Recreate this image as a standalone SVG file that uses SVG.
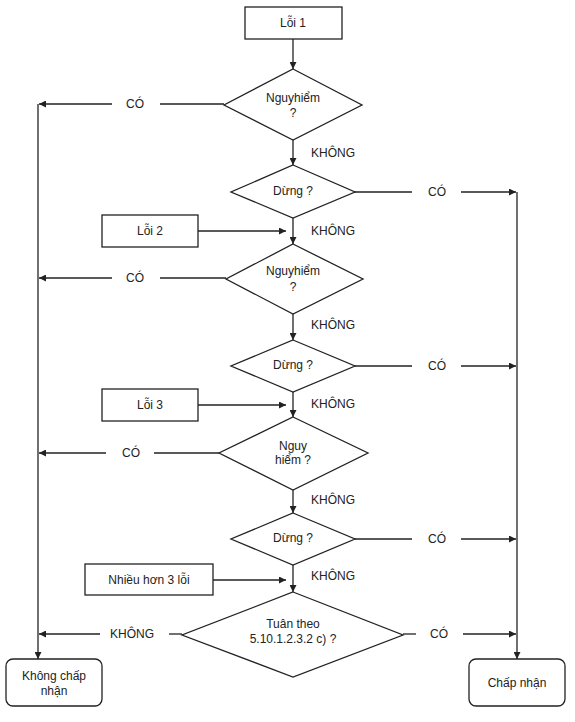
<svg xmlns="http://www.w3.org/2000/svg" width="575" height="722" viewBox="0 0 575 722">
<style>
.s{fill:none;stroke:#222;stroke-width:1.3}
.b{fill:#fff;stroke:#222;stroke-width:1.3}
text{font-family:"Liberation Sans",Arial,sans-serif;font-size:12px;fill:#222;text-anchor:middle}
</style>
<defs>
<marker id="a" viewBox="0 0 10 10" refX="10" refY="5" markerWidth="7" markerHeight="7" markerUnits="userSpaceOnUse" orient="auto"><path d="M0,0 L10,5 L0,10 z" fill="#222"/></marker>
</defs>
<rect width="575" height="722" fill="#fff"/>
<g id="connectors" class="s">
<line x1="293" y1="39" x2="293" y2="69" marker-end="url(#a)"/>
<line x1="293" y1="140" x2="293" y2="165" marker-end="url(#a)"/>
<line x1="293" y1="218" x2="293" y2="244" marker-end="url(#a)"/>
<line x1="293" y1="314" x2="293" y2="340" marker-end="url(#a)"/>
<line x1="293" y1="392" x2="293" y2="417" marker-end="url(#a)"/>
<line x1="293" y1="490" x2="293" y2="513" marker-end="url(#a)"/>
<line x1="293" y1="565" x2="293" y2="592" marker-end="url(#a)"/>
<line x1="198" y1="231" x2="286" y2="231" marker-end="url(#a)"/>
<line x1="198" y1="405" x2="286" y2="405" marker-end="url(#a)"/>
<line x1="213" y1="580" x2="286" y2="580" marker-end="url(#a)"/>
<line x1="224" y1="104" x2="160" y2="104"/>
<line x1="112" y1="104" x2="39" y2="104" marker-end="url(#a)"/>
<line x1="226" y1="278" x2="160" y2="278"/>
<line x1="112" y1="278" x2="39" y2="278" marker-end="url(#a)"/>
<line x1="219" y1="453" x2="154" y2="453"/>
<line x1="106" y1="453" x2="39" y2="453" marker-end="url(#a)"/>
<line x1="182" y1="634" x2="169" y2="634"/>
<line x1="100" y1="634" x2="39" y2="634" marker-end="url(#a)"/>
<line x1="38" y1="104" x2="38" y2="659" marker-end="url(#a)"/>
<line x1="355" y1="192" x2="412" y2="192"/>
<line x1="461" y1="192" x2="516" y2="192" marker-end="url(#a)"/>
<line x1="355" y1="366" x2="412" y2="366"/>
<line x1="461" y1="366" x2="516" y2="366" marker-end="url(#a)"/>
<line x1="355" y1="539" x2="412" y2="539"/>
<line x1="461" y1="539" x2="516" y2="539" marker-end="url(#a)"/>
<line x1="403" y1="634" x2="416" y2="634"/>
<line x1="463" y1="634" x2="516" y2="634" marker-end="url(#a)"/>
<line x1="517" y1="192" x2="517" y2="659" marker-end="url(#a)"/>
</g>
<g id="labels">
<text x="135" y="108">CÓ</text>
<text x="135" y="282">CÓ</text>
<text x="131" y="457">CÓ</text>
<text x="132" y="638">KHÔNG</text>
<text x="437" y="196">CÓ</text>
<text x="437" y="370">CÓ</text>
<text x="437" y="543">CÓ</text>
<text x="439" y="638">CÓ</text>
<text x="333" y="157">KHÔNG</text>
<text x="333" y="235">KHÔNG</text>
<text x="333" y="329">KHÔNG</text>
<text x="333" y="408">KHÔNG</text>
<text x="333" y="504">KHÔNG</text>
<text x="333" y="580">KHÔNG</text>
</g>
<g id="loi1"><rect class="b" x="245" y="7" width="97" height="32"/><text x="293" y="27">Lỗi 1</text></g>
<g id="d1"><polygon class="b" points="293,69 362,105 293,140 224,105"/><text x="293" y="102">Nguyhiểm</text><text x="293" y="117">?</text></g>
<g id="d2"><polygon class="b" points="293,165 355,192 293,218 231,192"/><text x="293" y="195">Dừng ?</text></g>
<g id="loi2"><rect class="b" x="102" y="215" width="96" height="32"/><text x="150" y="235">Lỗi 2</text></g>
<g id="d3"><polygon class="b" points="293,244 363,279 293,314 226,279"/><text x="293" y="275">Nguyhiểm</text><text x="293" y="291">?</text></g>
<g id="d4"><polygon class="b" points="293,340 355,366 293,392 231,366"/><text x="293" y="369">Dừng ?</text></g>
<g id="loi3"><rect class="b" x="102" y="389" width="96" height="32"/><text x="150" y="409">Lỗi 3</text></g>
<g id="d5"><polygon class="b" points="293,417 368,453 293,490 219,453"/><text x="293" y="450">Nguy</text><text x="293" y="464">hiểm ?</text></g>
<g id="d6"><polygon class="b" points="293,513 355,539 293,565 231,539"/><text x="293" y="542">Dừng ?</text></g>
<g id="nhieu"><rect class="b" x="85" y="564" width="128" height="31"/><text x="149" y="584">Nhiều hơn 3 lỗi</text></g>
<g id="d7"><polygon class="b" points="293,592 403,635 293,677 182,635"/><text x="293" y="628">Tuân theo</text><text x="293" y="643">5.10.1.2.3.2 c) ?</text></g>
<g id="khong"><rect class="b" x="6" y="659" width="96" height="47" rx="7"/><text x="54" y="680">Không chấp</text><text x="54" y="695">nhận</text></g>
<g id="chap"><rect class="b" x="469" y="659" width="96" height="47" rx="7"/><text x="517" y="687">Chấp nhận</text></g>
</svg>
